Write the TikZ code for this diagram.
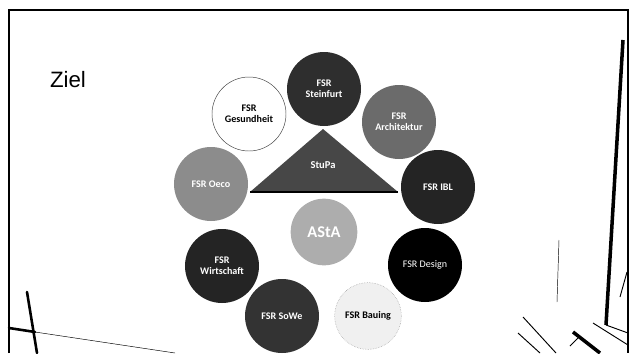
\documentclass[tikz,border=0pt]{standalone}
\usepackage{fontspec}
\setmainfont{Liberation Sans}
\newfontfamily\labelfont{Carlito}
\tikzset{
  fsr/.style={circle, minimum size=2.22cm, inner sep=0pt, align=center,
    text=white, font=\labelfont\bfseries\fontsize{8.6}{9.4}\selectfont},
  scanline/.style={line width=2.2pt, line cap=round}
}
\begin{document}
\begin{tikzpicture}[x=0.03cm, y=-0.03cm]
\useasboundingbox (0,0) rectangle (633,353);
% slide frame
\draw [line width=1.2pt] (9,353) -- (9,10) -- (628,10) -- (628,353);
\draw (68,80) node (ziel) {\fontsize{19}{21}\selectfont Ziel};
% StuPa triangle
\fill [black!72] (323,129) -- (398,192) -- (250,192) -- cycle;
\draw [line width=1pt] (250,192) -- (398,192);
\draw (323,165) node (stupa) [text=white, font=\labelfont\bfseries\fontsize{9}{10}\selectfont] {StuPa};
% the councils
\node [fsr, fill=black!82] (steinfurt) at (324,89) {FSR\\Steinfurt};
\node [fsr, fill=black!58] (architektur) at (399,122) {FSR\\Architektur};
\node [fsr, fill=white, draw=black!75, thin, text=black] (gesundheit) at (249,114) {FSR\\Gesundheit};
\node [fsr, fill=black!45] (oeco) at (211,184) {FSR Oeco};
\node [fsr, fill=black!86] (ibl) at (438,187) {FSR IBL};
\node [fsr, fill=black!32, minimum size=2.0cm, font=\labelfont\bfseries\fontsize{14}{15}\selectfont] (asta) at (324,232) {AStA};
\node [fsr, fill=black!86] (wirtschaft) at (222,266) {FSR\\Wirtschaft};
\node [fsr, fill=black, font=\labelfont\fontsize{8.6}{9.4}\selectfont] (design) at (425,265) {FSR Design};
\node [fsr, fill=black!80] (sowe) at (282,316) {FSR SoWe};
\node [fsr, fill=black!6, draw=black!45, densely dotted, minimum size=2.0cm, text=black] (bauing) at (368,316) {FSR Bauing};
% scan marks in the corners
\draw [scanline] (27,292) -- (37,353);
\draw [scanline] (9,328) -- (35,332);
\draw [thin] (35,332) -- (175,353);
\draw [line width=3pt] (623,40) -- (606,325);
\draw [thick] (606,325) -- (628,333);
\draw [thin] (559,240) -- (557,302);
\draw [thick] (620,297) -- (627,272);
\draw [thick] (523,317) -- (556,353);
\draw [thick] (518,333) -- (540,353);
\draw [line width=3pt] (573,332) -- (600,353);
\draw [thick] (570,346) -- (578,338);
\draw [thick] (593,323) -- (628,345);
\end{tikzpicture}
\end{document}
